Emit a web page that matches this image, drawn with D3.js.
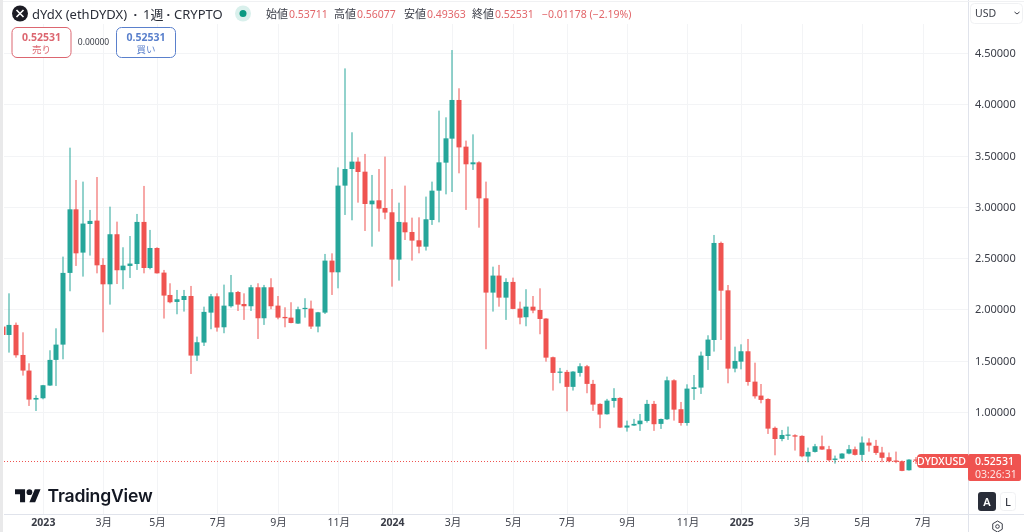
<!DOCTYPE html>
<html>
<head>
<meta charset="utf-8">
<script src="https://cdn.jsdelivr.net/npm/d3@7"></script>
<style>
  html,body{margin:0;padding:0;background:#fff;overflow:hidden}
  text{font-family:"Noto Sans","Noto Sans CJK JP",sans-serif}
  svg{filter:blur(0.35px)}
</style>
</head>
<body>
<div id="chart"></div>
<script>
// weekly candles, first one is cut off by the left edge
const firstIndex = -1;
const opens = [1.833,
  1.751,1.849,1.556,1.404,1.121,1.134,1.258,1.508,1.657,2.356,
  2.976,2.554,2.833,2.866,2.434,2.245,2.733,2.382,2.424,2.443,
  2.853,2.404,2.599,2.359,2.141,2.073,2.092,2.131,1.550,1.677,
  1.969,2.128,1.826,2.031,2.170,2.053,2.031,2.216,1.914,2.216,
  2.037,1.927,1.920,1.862,2.005,2.008,1.833,1.969,2.476,2.362,
  3.207,3.369,3.441,3.343,3.025,3.064,2.989,2.947,2.486,2.849,
  2.755,2.674,2.612,2.872,3.158,3.431,3.665,4.042,3.587,3.415,
  3.434,3.083,2.164,2.330,2.115,2.268,2.008,1.924,2.027,1.995,
  1.911,1.534,1.384,1.391,1.245,1.381,1.446,1.274,1.079,0.978,
  1.108,1.137,0.848,0.868,0.881,0.913,1.079,0.884,0.929,1.309,
  1.027,0.893,1.225,1.238,1.546,1.702,2.648,2.186,1.423,1.491,
  1.592,1.296,1.160,1.127,0.845,0.737,0.773,0.773,0.767,0.566,
  0.611,0.666,0.637,0.533,0.546,0.595,0.637,0.582,0.702,0.670,
  0.605,0.559,0.527,0.520,0.432,0.53711];
const closes = [1.751,
  1.849,1.553,1.404,1.121,1.137,1.261,1.508,1.657,2.356,2.976,
  2.547,2.837,2.863,2.430,2.245,2.733,2.382,2.427,2.447,2.853,
  2.404,2.599,2.352,2.135,2.070,2.099,2.131,1.550,1.680,1.976,
  2.128,1.823,2.037,2.167,2.047,2.031,2.216,1.914,2.216,2.031,
  1.920,1.914,1.868,2.002,2.015,1.833,1.972,2.476,2.362,3.207,
  3.369,3.441,3.340,3.028,3.061,2.983,2.944,2.486,2.853,2.752,
  2.671,2.612,2.879,3.158,3.434,3.668,4.042,3.580,3.415,3.434,
  3.083,2.164,2.330,2.115,2.268,2.005,1.920,2.027,1.989,1.907,
  1.530,1.381,1.394,1.245,1.394,1.446,1.274,1.072,0.975,1.111,
  1.137,0.848,0.868,0.884,0.916,1.079,0.881,0.932,1.309,1.023,
  0.893,1.228,1.241,1.550,1.706,2.648,2.183,1.423,1.498,1.592,
  1.293,1.153,1.118,0.838,0.737,0.776,0.780,0.760,0.568,0.611,
  0.666,0.634,0.530,0.546,0.595,0.637,0.582,0.702,0.673,0.601,
  0.553,0.520,0.514,0.426,0.536,0.52531];
const highs = [1.833,
  2.157,1.872,1.777,1.475,1.163,1.264,1.602,1.816,2.515,3.577,
  3.262,3.246,2.970,3.291,2.499,3.002,2.856,2.606,2.716,2.931,
  3.204,2.775,2.606,2.385,2.255,2.190,2.190,2.229,1.735,2.027,
  2.151,2.157,2.242,2.336,2.180,2.157,2.239,2.255,2.239,2.304,
  2.131,2.021,2.070,2.027,2.109,2.086,1.976,2.541,2.547,3.385,
  4.350,3.727,3.483,3.516,3.311,3.369,3.490,3.174,3.041,3.207,
  2.895,2.898,3.100,3.246,3.938,3.873,4.529,4.156,3.646,3.707,
  3.444,3.246,2.417,2.434,2.304,2.310,2.076,2.197,2.131,2.206,
  1.914,1.540,1.430,1.410,1.398,1.475,1.459,1.313,1.085,1.128,
  1.232,1.144,0.916,0.933,0.981,1.118,1.108,0.936,1.345,1.319,
  1.098,1.270,1.361,1.589,1.748,2.726,2.661,2.238,1.637,1.660,
  1.712,1.481,1.273,1.134,0.858,0.825,0.858,0.783,0.773,0.653,
  0.689,0.770,0.670,0.575,0.598,0.679,0.663,0.761,0.744,0.728,
  0.660,0.605,0.614,0.527,0.540,0.56077];
const lows = [1.751,
  1.579,1.530,1.355,1.059,1.010,1.124,1.255,1.254,1.514,2.177,
  2.424,2.320,2.525,2.352,1.777,2.047,2.248,2.197,2.307,2.385,
  2.352,2.391,2.350,1.911,2.060,1.953,1.979,1.371,1.498,1.644,
  1.807,1.784,1.768,2.018,1.985,1.898,1.985,1.712,1.849,2.002,
  1.904,1.826,1.865,1.859,1.920,1.810,1.777,1.956,2.141,2.206,
  2.921,2.869,3.041,2.765,2.612,2.759,2.879,2.222,2.281,2.677,
  2.476,2.547,2.574,2.824,2.849,3.122,3.145,3.327,2.970,3.360,
  2.797,1.612,1.979,2.027,1.898,2.002,1.855,1.836,1.963,1.758,
  1.491,1.209,1.280,1.007,1.209,1.345,1.183,1.011,0.842,0.975,
  1.043,0.845,0.809,0.865,0.816,0.897,0.816,0.835,0.923,0.916,
  0.867,0.867,1.118,1.176,1.410,1.589,1.702,1.280,1.387,1.416,
  1.257,1.131,1.085,0.786,0.578,0.715,0.728,0.624,0.559,0.510,
  0.605,0.631,0.520,0.497,0.543,0.588,0.576,0.523,0.614,0.582,
  0.510,0.510,0.501,0.423,0.429,0.49363];

const priceTicks = [1,1.5,2,2.5,3,3.5,4,4.5];
const timeTicks = [5,14,22,31,40,49,57,66,75,83,92,101,109,118,127,136];
const timeLabels = ["2023","3月","5月","7月","9月","11月","2024","3月","5月","7月","9月","11月","2025","3月","5月","7月"];
const yearLabels = ["2023","2024","2025"];

const ohlcLabels = ["始値","高値","安値","終値"];
const ohlcValues = ["0.53711","0.56077","0.49363","0.52531"];
const lastPrice = 0.52531;

const width = 1024, height = 532;
const up = "#26a69a", down = "#ef5350", axisLine = "#e0e3eb", gridLine = "#f3f4f6", ink = "#3a3d47";

const x = d3.scaleLinear().domain([0,135]).range([9.3,915.8]);
const y = d3.scaleLinear().domain([1,4.5]).range([412,53]);

const candles = opens.map((o,i)=>({i:i+firstIndex,o,c:closes[i],h:highs[i],l:lows[i]}));

const svg = d3.select("#chart").append("svg")
  .attr("width",width).attr("height",height)
  .style("display","block");

svg.append("defs").append("clipPath").attr("id","pane")
  .append("rect").attr("x",4).attr("y",0).attr("width",964).attr("height",514);

//grid
const grid = svg.append("g");
grid.selectAll(".gh").data(priceTicks).enter().append("line")
  .attr("x1",4).attr("x2",968)
  .attr("y1",d=>Math.round(y(d))+0.5).attr("y2",d=>Math.round(y(d))+0.5)
  .attr("stroke",gridLine);
grid.selectAll(".gv").data(timeTicks).enter().append("line")
  .attr("y1",24).attr("y2",514)
  .attr("x1",d=>Math.round(x(d))+0.5).attr("x2",d=>Math.round(x(d))+0.5)
  .attr("stroke",gridLine);

//last price dotted line
svg.append("line")
  .attr("x1",4).attr("x2",968)
  .attr("y1",Math.round(y(lastPrice))+0.5).attr("y2",Math.round(y(lastPrice))+0.5)
  .attr("stroke",down).attr("stroke-dasharray","1 2");

//candles
const pane = svg.append("g").attr("clip-path","url(#pane)");
const candle = pane.selectAll("g").data(candles).enter().append("g");
candle.append("rect")
  .attr("x",d=>Math.round(x(d.i))-0.5)
  .attr("width",1)
  .attr("y",d=>y(d.h))
  .attr("height",d=>y(d.l)-y(d.h))
  .attr("fill",d=>d.c>=d.o?up:down);
candle.append("rect")
  .attr("x",d=>Math.round(x(d.i))-2.5)
  .attr("width",5)
  .attr("y",d=>y(Math.max(d.o,d.c)))
  .attr("height",d=>Math.max(1.2,Math.abs(y(d.o)-y(d.c))))
  .attr("fill",d=>d.c>=d.o?up:down);

//axes
const yAxis = d3.axisRight(y).tickValues(priceTicks).tickSize(0).tickPadding(7)
  .tickFormat(d=>d3.format(".5f")(d));
const gy = svg.append("g").attr("transform","translate(968,0)").call(yAxis);
gy.select(".domain").remove();
gy.selectAll("text").attr("font-size",11).attr("fill",ink)
  .style("font-family",'"Noto Sans",sans-serif');

const xAxis = d3.axisBottom(x).tickValues(timeTicks).tickSize(0).tickPadding(5)
  .tickFormat((d,i)=>timeLabels[i]);
const gx = svg.append("g").attr("transform","translate(0,514)").call(xAxis);
gx.select(".domain").remove();
gx.selectAll("text").attr("font-size",10.5).attr("fill",ink)
  .attr("font-weight",(d,i)=>yearLabels.includes(timeLabels[i])?700:400);

svg.append("line").attr("x1",968.5).attr("x2",968.5).attr("y1",0).attr("y2",height).attr("stroke",axisLine);
svg.append("line").attr("x1",4).attr("x2",width).attr("y1",514.5).attr("y2",514.5).attr("stroke",axisLine);
svg.append("rect").attr("x",0).attr("y",0).attr("width",3).attr("height",height).attr("fill","#e9e9ea");
svg.append("line").attr("x1",3).attr("x2",width).attr("y1",1.5).attr("y2",1.5).attr("stroke","#f0f1f3");

//last price tags
const lastY = y(lastPrice);
const tagTop = Math.round(lastY)-7;
svg.append("path")
  .attr("d",`M968 ${tagTop}H921a4 4 0 0 0 -4 4V${tagTop+10}a4 4 0 0 0 4 4H968Z`)
  .attr("fill",down);
svg.append("text").attr("x",941.5).attr("y",tagTop+11).attr("text-anchor","middle")
  .attr("font-size",10.5).attr("font-weight",500).attr("fill","#fff").text("DYDXUSD");
svg.append("rect").attr("x",968).attr("y",tagTop).attr("width",53).attr("height",27).attr("rx",2).attr("fill",down);
svg.append("text").attr("x",975).attr("y",tagTop+11)
  .attr("font-size",10.5).attr("font-weight",500).attr("fill","#fff").text(lastPrice.toFixed(5));
svg.append("text").attr("x",975).attr("y",tagTop+24)
  .attr("font-size",10.5).attr("fill","#fff").attr("opacity",0.85).text("03:26:31");

//header
const head = svg.append("g");
head.append("circle").attr("cx",20).attr("cy",13.5).attr("r",8).attr("fill","#1c1c24");
head.append("path").attr("d","M16.5 10 L23.5 17 M23.5 10 L16.5 17").attr("stroke","#fff").attr("stroke-width",1.6);
const titleParts = ["dYdX (ethDYDX)","·","1週","·","CRYPTO"];
const titleX = [32,133.5,143,166.5,174];
titleParts.forEach((t,i)=>{
  head.append("text").attr("x",titleX[i]).attr("y",18.5).attr("font-size",13).attr("font-weight",i%2?700:400)
    .attr("fill","#2a2e39").text(t);
});
head.append("circle").attr("cx",243).attr("cy",13.5).attr("r",8).attr("fill","#d9f0ec");
head.append("circle").attr("cx",243).attr("cy",13.5).attr("r",3.5).attr("fill","#089981");

const labelX = [266,334,404,472];
ohlcLabels.forEach((t,i)=>{
  head.append("text").attr("x",labelX[i]).attr("y",18).attr("font-size",11).attr("fill",ink).text(t);
  head.append("text").attr("x",labelX[i]+23).attr("y",18).attr("font-size",10.5).attr("fill","#e2666a").text(ohlcValues[i]);
});
head.append("text").attr("x",542).attr("y",18).attr("font-size",10.5).attr("fill","#e2666a").text("−0.01178 (−2.19%)");

//buy / sell boxes
function tradeBox(left,color,label){
  head.append("rect").attr("x",left+0.5).attr("y",27.5).attr("width",59).attr("height",30).attr("rx",5)
    .attr("fill","#fff").attr("stroke",color);
  head.append("text").attr("x",left+30).attr("y",41).attr("text-anchor","middle")
    .attr("font-size",10.5).attr("font-weight",700).attr("fill",color).text(lastPrice.toFixed(5));
  head.append("text").attr("x",left+30).attr("y",53).attr("text-anchor","middle")
    .attr("font-size",9.5).attr("fill",color).text(label);
}
tradeBox(11.5,"#dc6670","売り");
tradeBox(116,"#5a80cc","買い");
head.append("text").attr("x",93.5).attr("y",45).attr("text-anchor","middle")
  .attr("font-size",8.5).attr("fill",ink).text("0.00000");

//currency box
svg.append("rect").attr("x",970.5).attr("y",3.5).attr("width",52).attr("height",20).attr("rx",4)
  .attr("fill","#fff").attr("stroke","#f0f1f3");
svg.append("text").attr("x",975).attr("y",17).attr("font-size",10.5).attr("fill",ink).text("USD");
svg.append("path").attr("d","M1014.5 12l2.5 2l2.5 -2").attr("fill","none").attr("stroke",ink).attr("stroke-width",1);

//logo
const logo = svg.append("g").attr("transform","translate(15,486.4) scale(0.72)");
logo.append("path").attr("d","M14 22H7V11H0V4h14v18zM28 22h-8l7.5-18h8L28 22z").attr("fill","#131722");
logo.append("circle").attr("cx",20).attr("cy",8).attr("r",4).attr("fill","#131722");
svg.append("text").attr("x",47.5).attr("y",502).attr("font-size",17.6).attr("font-weight",600)
  .attr("fill","#131722").style("font-family","Inter,sans-serif").style("letter-spacing","-0.2px").text("TradingView");

//auto / log buttons
svg.append("rect").attr("x",978).attr("y",492).attr("width",18).attr("height",19).attr("rx",3).attr("fill","#2a2e39");
svg.append("text").attr("x",987).attr("y",506).attr("text-anchor","middle").attr("font-size",11).attr("font-weight",600).attr("fill","#fff").text("A");
svg.append("rect").attr("x",1000.5).attr("y",492.5).attr("width",15).attr("height",18).attr("rx",3).attr("fill","#fff").attr("stroke","#f0f1f3");
svg.append("text").attr("x",1008).attr("y",506).attr("text-anchor","middle").attr("font-size",11).attr("font-weight",500).attr("fill",ink).text("L");

//settings icon
svg.append("path").attr("d",d3.line()(d3.range(6).map(k=>[997.5+5.5*Math.sin(k*Math.PI/3),526.5+5.5*Math.cos(k*Math.PI/3)]))+"Z")
  .attr("fill","none").attr("stroke",ink).attr("stroke-width",1);
svg.append("circle").attr("cx",997.5).attr("cy",526.5).attr("r",1.8).attr("fill","none").attr("stroke",ink);
</script>
</body>
</html>
